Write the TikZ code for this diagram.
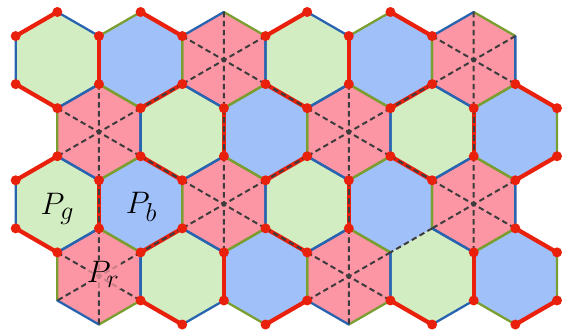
\documentclass[tikz,border=0pt]{standalone}
\usepackage{xcolor}
\definecolor{gfill}{RGB}{211,237,195}
\definecolor{bfill}{RGB}{160,192,250}
\definecolor{rfill}{RGB}{252,150,164}
\definecolor{gedge}{RGB}{122,158,48}
\definecolor{bedge}{RGB}{40,100,175}
\definecolor{redge}{RGB}{232,32,12}
\definecolor{dashc}{RGB}{60,60,60}
\begin{document}
\begin{tikzpicture}[x=41.64pt,y=-24.04pt,
  thinG/.style={draw=gedge,line width=2.3pt,line cap=round},
  thinB/.style={draw=bedge,line width=2.3pt,line cap=round},
  redE/.style={draw=redge,line width=4.2pt,line cap=round},
  dashE/.style={draw=dashc,line width=2pt,dash pattern=on 5.5pt off 3.5pt},
  lab/.style={font=\Huge, scale=1.25, inner sep=1pt, anchor=base, fill opacity=0.75, text opacity=1}]
\useasboundingbox (-0.377,-0.499) rectangle (13.24,13.35);
% fills
\foreach \k/\m in {1/2,7/2,4/5,10/5,1/8,7/8,4/11,10/11}
  \fill[gfill] (\k,\m-2) -- (\k+1,\m-1) -- (\k+1,\m+1) -- (\k,\m+2) -- (\k-1,\m+1) -- (\k-1,\m-1) -- cycle;
\foreach \k/\m in {3/2,9/2,6/5,12/5,3/8,9/8,6/11,12/11}
  \fill[bfill] (\k,\m-2) -- (\k+1,\m-1) -- (\k+1,\m+1) -- (\k,\m+2) -- (\k-1,\m+1) -- (\k-1,\m-1) -- cycle;
\foreach \k/\m in {5/2,11/2,2/5,8/5,5/8,11/8,2/11,8/11}
  \fill[rfill] (\k,\m-2) -- (\k+1,\m-1) -- (\k+1,\m+1) -- (\k,\m+2) -- (\k-1,\m+1) -- (\k-1,\m-1) -- cycle;
% thin edges
\foreach \k/\m in {1/2,7/2,4/5,10/5,1/8,7/8,4/11,10/11}
  \draw[thinB] (\k,\m-2) -- (\k+1,\m-1) (\k+1,\m+1) -- (\k,\m+2) (\k-1,\m+1) -- (\k-1,\m-1);
\foreach \k/\m in {3/2,9/2,6/5,12/5,3/8,9/8,6/11,12/11}
  \draw[thinG] (\k+1,\m-1) -- (\k+1,\m+1) (\k,\m+2) -- (\k-1,\m+1) (\k-1,\m-1) -- (\k,\m-2);
\foreach \k/\m in {5/2,11/2,2/5,8/5,5/8,11/8,2/11,8/11} {
  \draw[thinG] (\k,\m-2) -- (\k+1,\m-1) (\k+1,\m+1) -- (\k,\m+2) (\k-1,\m+1) -- (\k-1,\m-1);
  \draw[thinB] (\k+1,\m-1) -- (\k+1,\m+1) (\k,\m+2) -- (\k-1,\m+1) (\k-1,\m-1) -- (\k,\m-2);
}
% red thick edges
\def\rededges{0/1/1/0, 2/1/2/3, 0/3/1/4, 6/1/7/0, 8/1/8/3, 6/3/7/4, 3/4/4/3, 5/4/5/6, 3/6/4/7, 9/4/10/3, 11/4/11/6, 9/6/10/7, 0/7/1/6, 2/7/2/9, 0/9/1/10, 6/7/7/6, 8/7/8/9, 6/9/7/10, 3/10/4/9, 5/10/5/12, 3/12/4/13, 11/10/11/12, 9/12/10/13, 3/0/4/1, 9/0/10/1, 12/3/13/4, 13/6/12/7, 7/12/6/13, 12/9/13/10, 13/12/12/13}
\foreach \a/\b/\c/\d in \rededges
  \draw[redE] (\a,\b) -- (\c,\d);
% dashed lines
\foreach \k/\m in {5/2,11/2,2/5,8/5,5/8,11/8,2/11,8/11}
  \draw[dashE] (\k,\m-2) -- (\k,\m+2) (\k-1,\m-1) -- (\k+1,\m+1) (\k+1,\m-1) -- (\k-1,\m+1);
\foreach \a/\b/\c/\d in {4/3/3/4, 6/3/7/4, 5/4/5/6, 10/3/9/4, 11/4/11/6, 3/6/4/7, 2/7/2/9, 7/6/6/7, 9/6/10/7, 8/7/8/9, 4/9/3/10, 6/9/7/10, 10/9/9/10}
  \draw[dashE] (\a,\b) -- (\c,\d);
% dots
\foreach \a/\b/\c/\d in \rededges
  \fill[redge] (\a,\b) circle (5pt) (\c,\d) circle (5pt);
% labels
\node[lab, fill=gfill] (pg) at (1.0,8.44) {$P_g$};
\node[lab, fill=bfill] (pb) at (3.02,8.40) {$P_b$};
\node[lab, fill=rfill] (pr) at (2.10,11.27) {$P_r$};
\end{tikzpicture}
\end{document}
